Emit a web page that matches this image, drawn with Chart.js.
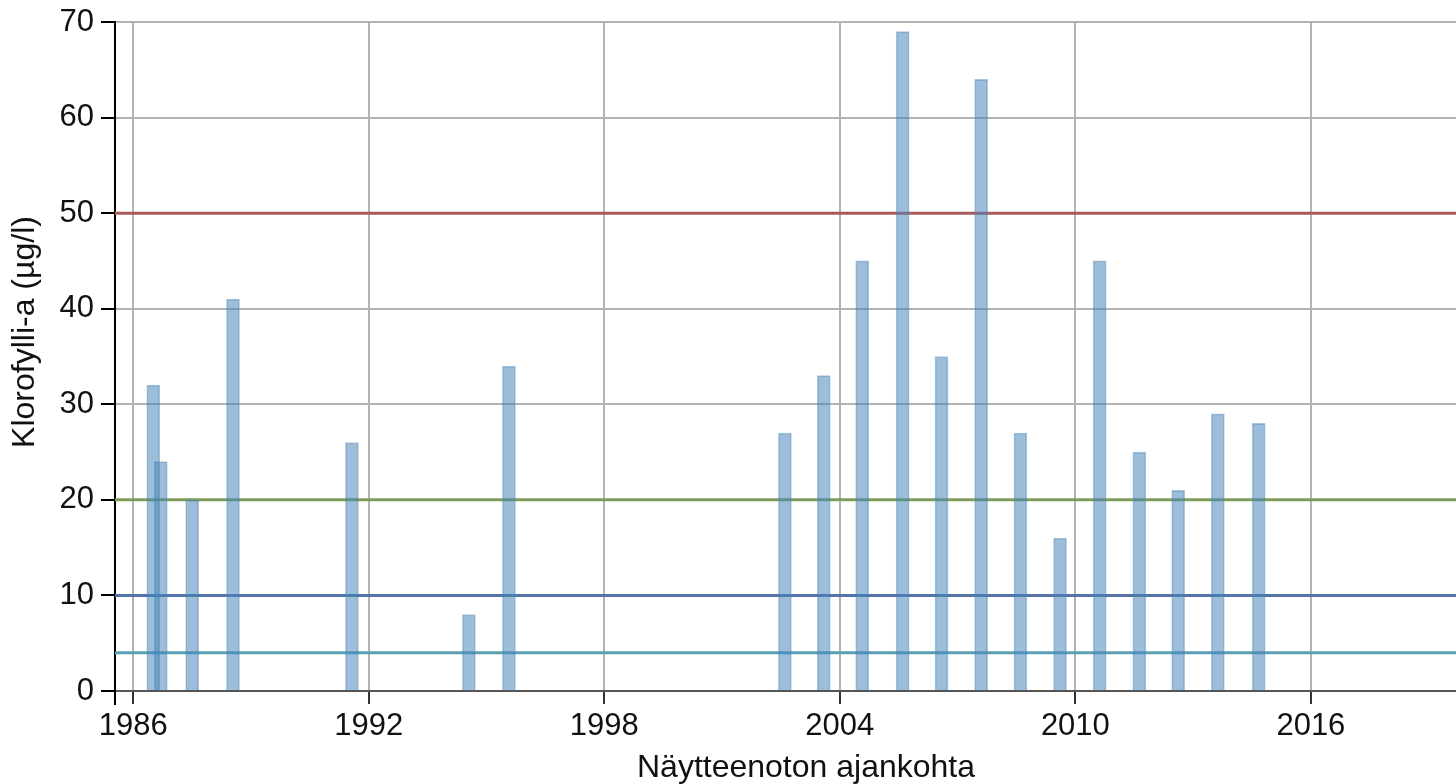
<!DOCTYPE html>
<html>
<head>
<meta charset="utf-8">
<script src="https://cdn.jsdelivr.net/npm/chart.js@4/dist/chart.umd.min.js"></script>
<style>
  html, body { margin: 0; padding: 0; background: #ffffff; }
  #wrap { width: 1456px; height: 784px; }
</style>
</head>
<body>
<div id="wrap"><canvas id="c" width="1456" height="784"></canvas></div>
<script>
// Sampling dates as decimal years, and chlorophyll-a results (µg/l)
const sampleYears = [1986.51, 1986.70, 1987.50, 1988.54, 1991.57, 1994.55, 1995.57,
  2002.60, 2003.59, 2004.57, 2005.60, 2006.59, 2007.60, 2008.60, 2009.61,
  2010.62, 2011.63, 2012.62, 2013.63, 2014.67];
const chlorophyll = [32, 24, 20, 41, 26, 8, 34,
  27, 33, 45, 69, 35, 64, 27, 16,
  45, 25, 21, 29, 28];

// Classification limits drawn as horizontal reference lines
const limitValues = [50, 20, 10, 4];
const limitColors = ['#a85a5c', '#7f9d5a', '#5473a6', '#5b9fb4'];

// Axis ticks and range
const xTickYears = [1986, 1992, 1998, 2004, 2010, 2016];
const yTickValues = [0, 10, 20, 30, 40, 50, 60, 70];
const xMin = 1985.534, xMax = 2019.697;
const yMin = 0, yMax = 70;

const FONT = "'Liberation Sans', Arial, sans-serif";
const xTitle = 'Näytteenoton ajankohta';
const yTitle = 'Klorofylli-a (µg/l)';

const barData = sampleYears.map((x, i) => ({ x: x, y: chlorophyll[i] }));
const limitSets = limitValues.map((v, i) => ({
  type: 'line',
  data: [{ x: xMin, y: v }, { x: xMax, y: v }],
  borderColor: limitColors[i],
  borderWidth: 3,
  pointRadius: 0,
  order: 1
}));

const axisDecor = {
  id: 'axisDecor',
  afterDraw(chart) {
    const ctx = chart.ctx;
    const a = chart.chartArea;
    ctx.save();
    // left axis runs a little below the zero line
    ctx.strokeStyle = '#000';
    ctx.lineWidth = 2;
    ctx.beginPath();
    ctx.moveTo(a.left, a.bottom);
    ctx.lineTo(a.left, a.bottom + 14);
    ctx.stroke();
    // axis titles
    ctx.fillStyle = '#111';
    ctx.font = '32px ' + FONT;
    ctx.textAlign = 'center';
    ctx.textBaseline = 'middle';
    ctx.fillText(xTitle, 806, 768);
    ctx.translate(25, 332);
    ctx.rotate(-Math.PI / 2);
    ctx.fillText(yTitle, 0, 0);
    ctx.restore();
  }
};

new Chart(document.getElementById('c'), {
  type: 'bar',
  data: {
    datasets: [{
      type: 'bar',
      data: barData,
      backgroundColor: 'rgba(70,133,185,0.53)',
      borderColor: 'rgba(70,130,180,0.45)',
      borderWidth: 1,
      barThickness: 13,
      order: 0
    }].concat(limitSets)
  },
  options: {
    responsive: false,
    animation: false,
    devicePixelRatio: 1,
    layout: { padding: { top: 22, right: 0, left: 0, bottom: 0 } },
    plugins: { legend: { display: false }, tooltip: { enabled: false } },
    scales: {
      x: {
        type: 'linear',
        min: xMin,
        max: xMax,
        offset: false,
        afterBuildTicks(scale) { scale.ticks = xTickYears.map(v => ({ value: v })); },
        afterFit(scale) { scale.height = 93; scale.paddingLeft = 0; scale.paddingRight = 0; },
        grid: { offset: false, color: '#b3b3b3', lineWidth: 2, tickLength: 13, tickColor: '#333', tickWidth: 2 },
        border: { color: '#555', width: 2 },
        ticks: {
          autoSkip: false,
          maxRotation: 0,
          padding: 4,
          color: '#111',
          font: { family: FONT, size: 31 },
          callback: v => String(v)
        }
      },
      y: {
        min: yMin,
        max: yMax,
        afterBuildTicks(scale) { scale.ticks = yTickValues.map(v => ({ value: v })); },
        afterFit(scale) { scale.width = 115; scale.paddingTop = 0; scale.paddingBottom = 0; },
        grid: { color: '#b3b3b3', lineWidth: 2, tickLength: 14, tickColor: '#000', tickWidth: 2 },
        border: { color: '#000', width: 2 },
        ticks: {
          padding: 7,
          color: '#111',
          font: { family: FONT, size: 31 }
        }
      }
    }
  },
  plugins: [axisDecor]
});
</script>
</body>
</html>
